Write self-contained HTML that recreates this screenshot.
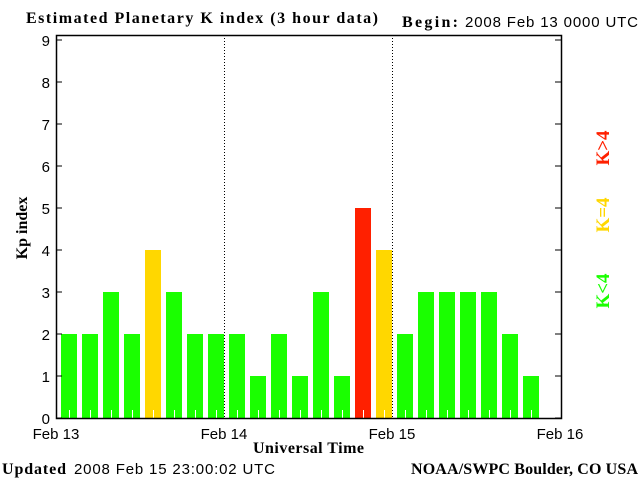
<!DOCTYPE html>
<html><head><meta charset="utf-8"><style>
body{margin:0;background:#fff;width:640px;height:480px;overflow:hidden}
svg{display:block}
.s{font-family:"Liberation Sans",sans-serif;font-size:15px}
.b{font-family:"Liberation Serif",serif;font-size:16px;font-weight:bold}
</style></head><body>
<svg id="c" width="640" height="480" xmlns="http://www.w3.org/2000/svg">
<text class="b" x="26" y="23" textLength="352" lengthAdjust="spacing">Estimated Planetary K index (3 hour data)</text>
<text class="b" x="402" y="27" textLength="56">Begin:</text>
<text class="s" x="465" y="27" textLength="173">2008 Feb 13 0000 UTC</text>
<text class="b" transform="translate(27,228) rotate(-90)" text-anchor="middle">Kp index</text>
<text class="b" x="253" y="453" textLength="111">Universal Time</text>
<text class="b" x="2" y="474" textLength="64">Updated</text>
<text class="s" x="74" y="474" textLength="201">2008 Feb 15 23:00:02 UTC</text>
<text class="b" x="411" y="474" textLength="227">NOAA/SWPC Boulder, CO USA</text>
<g font-family="Liberation Serif,serif" font-size="19" font-weight="bold">
<text transform="translate(609,148) rotate(-90)" text-anchor="middle" fill="#ff2000">K&gt;4</text>
<text transform="translate(609,215) rotate(-90)" text-anchor="middle" fill="#ffd700">K=4</text>
<text transform="translate(609,291) rotate(-90)" text-anchor="middle" fill="#1aff00">K&lt;4</text>
</g>
<g id="plot"></g>
</svg>
<script>
const kpValues=[2,2,3,2,4,3,2,2, 2,1,2,1,3,1,5,4, 2,3,3,3,3,2,1];
const yTicks=[0,1,2,3,4,5,6,7,8,9];
const dayLabels=["Feb 13","Feb 14","Feb 15","Feb 16"];
const L=56,R=561,B=418,T=35,unit=42,slot=21;
const NS="http://www.w3.org/2000/svg";
const g=document.getElementById('plot');
function y(v){return B-v*unit;}
function x(i){return L+i*slot;}
function mk(t,a){const e=document.createElementNS(NS,t);for(const k in a)e.setAttribute(k,a[k]);g.appendChild(e);return e;}
kpValues.forEach((v,i)=>{
 const col=v>4?'#ff2000':(v===4?'#ffd700':'#1aff00');
 const r=mk('rect',{x:x(i)+5,y:y(v),width:16,height:B-y(v),fill:col});
 
 
 const t=mk('line',{x1:x(i)+13.5,x2:x(i)+13.5,y1:B-8,y2:B,stroke:'#fff','stroke-width':1});
 
 
});
[1,2].forEach(d=>{
 const l=mk('line',{x1:L+d*168+0.5,x2:L+d*168+0.5,y1:T,y2:B,stroke:'#000','stroke-dasharray':'1,2'});
 
 
});
const fr=mk('rect',{x:L+0.5,y:T+0.5,width:R-L,height:B-T,fill:'none',stroke:'#000','stroke-width':1.5});


yTicks.forEach(v=>{
 mk('line',{x1:L,x2:L+6,y1:y(v),y2:y(v),stroke:'#000'});
 mk('line',{x1:R-6,x2:R,y1:y(v),y2:y(v),stroke:'#000'});
 const t=mk('text',{x:L-6,y:y(v)+6,'text-anchor':'end',class:'s','font-size':'17'});
 t.textContent=v;
 
 
});
dayLabels.forEach((d,i)=>{
 const t=mk('text',{x:L+i*168,y:439,'text-anchor':'middle',class:'s'});
 t.textContent=d;
 
 
});
</script>
</body></html>
